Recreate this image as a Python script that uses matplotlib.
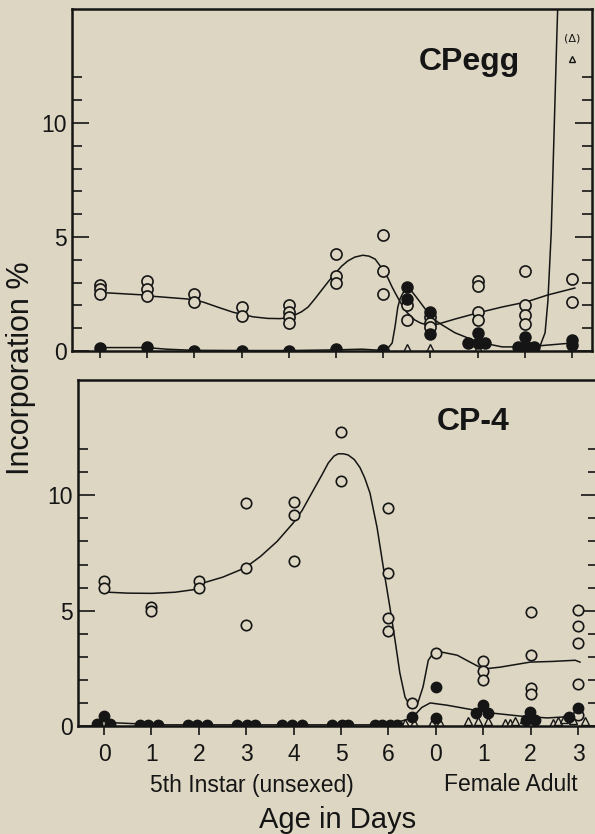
import matplotlib
matplotlib.use("Agg")
import matplotlib.pyplot as plt

plt.rcParams['font.family'] = ['Liberation Sans', 'DejaVu Sans']

BG = '#dcd6c2'
INK = '#151515'

day_pos = list(range(11))
day_labels = ['0', '1', '2', '3', '4', '5', '6', '0', '1', '2', '3']

# ---- CPegg (top panel) ----
egg_open_x = [0, 0, 0, 1, 1, 1, 2, 2, 3, 3, 4, 4, 4, 4, 5, 5, 5, 6, 6, 6,
              6.5, 6.5, 7, 7, 7, 8, 8, 8, 8, 9, 9, 9, 9, 10, 10]
egg_open_y = [2.9, 2.7, 2.5, 3.05, 2.7, 2.4, 2.5, 2.15, 1.95, 1.55, 2.0, 1.7, 1.5, 1.25,
              4.25, 3.3, 3.0, 5.1, 3.5, 2.5, 2.0, 1.35, 1.5, 1.25, 1.05,
              3.05, 2.85, 1.7, 1.35, 3.5, 2.0, 1.6, 1.2, 3.15, 2.15]
egg_fill_x = [0, 1, 2, 3, 4, 5, 6, 6.5, 6.5, 7, 7, 8, 7.8, 8.0, 8.15,
              9, 8.85, 9.05, 9.2, 10, 10]
egg_fill_y = [0.15, 0.17, 0.0, 0.0, 0.0, 0.08, 0.05, 2.8, 2.3, 1.7, 0.75, 0.8, 0.35, 0.35, 0.35,
              0.6, 0.18, 0.18, 0.18, 0.5, 0.25]
egg_tri_x = [6.5, 7, 8, 9.2]
egg_tri_y = [0.12, 0.12, 0.12, 0.12]
egg_tri_off_x = [10]
egg_tri_off_y = [12.8]

# hand-drawn curves
egg_open_cx = [0.15, 1.0, 1.12, 1.86, 2.18, 2.5, 2.82, 3.24, 3.55, 3.81, 4.0, 4.13, 4.27,
               4.41, 4.55, 4.7, 4.84, 4.98, 5.12, 5.25, 5.4, 5.57, 5.7, 5.83, 6.0, 6.1,
               6.19, 6.28, 6.36, 6.5, 6.67, 6.8, 6.95, 7.16, 7.52, 8.0, 8.52, 9.03,
               9.49, 10.06]
egg_open_cy = [2.55, 2.45, 2.4, 2.28, 2.15, 1.92, 1.7, 1.5, 1.43, 1.42, 1.46, 1.58, 1.72,
               1.93, 2.28, 2.68, 3.05, 3.4, 3.72, 3.95, 4.12, 4.2, 4.16, 4.03, 3.55, 3.2,
               2.8, 2.45, 2.15, 1.7, 1.36, 1.22, 1.14, 1.18, 1.4, 1.67, 1.93, 2.15,
               2.46, 2.76]
egg_fill_cx = [0.0, 1.0, 1.4, 1.97, 3.0, 4.0, 5.02, 5.55, 5.95, 6.1, 6.19, 6.25, 6.31,
               6.36, 6.42, 6.53, 6.65, 6.78, 7.03, 7.25, 7.52, 8.0, 8.52, 9.03, 9.49, 10.0]
egg_fill_cy = [0.15, 0.15, 0.08, 0.03, 0.02, 0.02, 0.05, 0.08, 0.03, 0.12, 0.35, 1.05, 1.93,
               2.3, 2.55, 2.8, 2.5, 2.15, 1.45, 1.14, 0.8, 0.4, 0.18, 0.18, 0.26, 0.35]
egg_tri_cx = [9.0, 9.17, 9.32, 9.43, 9.49, 9.56, 9.6, 9.64, 9.68, 9.72]
egg_tri_cy = [0.02, 0.05, 0.2, 0.8, 2.2, 5.2, 8.1, 11.0, 13.9, 16.5]

# ---- CP-4 (bottom panel) ----
cp4_open_x = [0, 0, 1, 1, 2, 2, 3, 3, 3, 4, 4, 4, 5, 5, 6, 6, 6, 6, 6.5, 7,
              8, 8, 8, 9, 9, 9, 9, 10, 10, 10, 10, 10]
cp4_open_y = [6.28, 6.0, 5.15, 5.0, 6.3, 6.0, 9.65, 6.85, 4.4, 9.7, 9.15, 7.15,
              12.75, 10.6, 9.45, 6.65, 4.7, 4.1, 1.0, 3.15,
              2.8, 2.4, 2.0, 4.95, 3.07, 1.65, 1.4, 5.05, 4.35, 3.6, 1.8, 0.48]
cp4_fill_x = [-0.15, 0, 0.13, 0.76, 0.93, 1.14, 1.77, 1.96, 2.17, 2.8, 3.02, 3.19,
              3.76, 3.97, 4.18, 4.81, 5.02, 5.15, 5.72, 5.87, 6.03, 6.18,
              6.5, 7, 7, 8.0, 7.85, 8.1, 8.99, 8.9, 9.1, 10.0, 9.8]
cp4_fill_y = [0.1, 0.43, 0.1, 0.05, 0.05, 0.05, 0.05, 0.05, 0.05, 0.05, 0.05, 0.05,
              0.05, 0.05, 0.05, 0.05, 0.05, 0.05, 0.05, 0.05, 0.05, 0.05,
              0.4, 1.7, 0.35, 0.9, 0.55, 0.55, 0.6, 0.25, 0.25, 0.8, 0.4]
cp4_tri_x = [6.35, 6.54, 6.92, 7.09, 7.68, 7.89, 8.1, 8.46, 8.57, 8.67, 8.86,
             9.47, 9.58, 9.7, 9.89, 10.15]
cp4_tri_y = [0.15, 0.15, 0.15, 0.15, 0.2, 0.2, 0.2, 0.15, 0.15, 0.2, 0.3,
             0.15, 0.2, 0.3, 0.25, 0.2]

cp4_open_cx = [0.08, 0.5, 1.01, 1.5, 1.96, 2.09, 2.5, 2.97, 3.3, 3.65, 3.99, 4.18, 4.45,
               4.6, 4.73, 4.85, 4.94, 5.05, 5.15, 5.28, 5.4, 5.5, 5.61, 5.76, 5.89, 6.03,
               6.14, 6.24, 6.35, 6.43, 6.5, 6.57, 6.62, 6.73, 6.84, 6.94,
               7.13, 7.45, 7.72, 8.0, 8.35, 8.99, 9.47, 9.94, 10.04]
cp4_open_cy = [5.8, 5.76, 5.75, 5.8, 5.93, 6.2, 6.45, 6.85, 7.35, 8.0, 8.8, 9.35, 10.35,
               10.9, 11.4, 11.7, 11.8, 11.8, 11.75, 11.55, 11.2, 10.75, 10.1, 8.6, 6.9,
               5.15, 3.7, 2.3, 1.25, 0.97, 0.9, 0.92, 1.0, 1.7, 2.85, 3.15,
               3.2, 3.07, 2.77, 2.47, 2.55, 2.77, 2.8, 2.85, 2.77]
cp4_fill_cx = [0.1, 0.65, 1.0, 2.0, 3.0, 4.0, 5.0, 6.0, 6.5, 6.7, 6.88, 7.24, 7.78, 8.14,
               8.78, 9.35, 9.77]
cp4_fill_cy = [0.15, 0.1, 0.05, 0.05, 0.05, 0.05, 0.05, 0.05, 0.35, 0.8, 1.0, 0.9, 0.7, 0.57,
               0.43, 0.35, 0.4]

W, H = 595, 834
fig = plt.figure(figsize=(W / 100, H / 100), dpi=100)
fig.patch.set_facecolor(BG)


def box(l, t, r, b):
    return [l / W, 1 - b / H, (r - l) / W, (b - t) / H]


def style_panel(ax, xlim, xtick_len, show_labels):
    ax.set_facecolor(BG)
    ax.set_xlim(*xlim)
    ax.set_ylim(0, 15)
    for s in ax.spines.values():
        s.set_linewidth(1.8)
        s.set_color(INK)
        s.set_zorder(6)
    ax.set_yticks([0, 5, 10])
    ax.set_yticklabels(['0', '5', '10'])
    ax.set_yticks([1, 2, 3, 4, 6, 7, 8, 9, 11, 12], minor=True)
    ax.tick_params(axis='y', which='both', direction='in', left=True, right=True,
                   colors=INK, width=1.2, labelsize=16.5, pad=4)
    ax.tick_params(axis='y', which='major', length=12)
    ax.tick_params(axis='y', which='minor', length=7)
    ax.set_xticks(day_pos)
    ax.set_xticklabels(day_labels)
    ax.tick_params(axis='x', direction='out', length=xtick_len, width=1.2, colors=INK,
                   labelsize=16.5, pad=6, labelbottom=show_labels)


def draw(ax, ox, oy, fx, fy, tx, ty, curves, ms):
    for cx, cy in curves:
        ax.plot(cx, cy, color=INK, lw=1.1, zorder=2)
    ax.plot(tx, ty, ls='none', marker='^', ms=6, mfc=BG, mec=INK, mew=1.0, zorder=3)
    ax.plot(ox, oy, ls='none', marker='o', ms=ms, mfc=BG, mec=INK, mew=1.2, zorder=4)
    ax.plot(fx, fy, ls='none', marker='o', ms=ms, mfc=INK, mec=INK, mew=1.0, zorder=5)


ax1 = fig.add_axes(box(72, 9, 592, 351))
style_panel(ax1, (-0.593, 10.424), 5, False)
draw(ax1, egg_open_x, egg_open_y, egg_fill_x, egg_fill_y, egg_tri_x, egg_tri_y,
     [(egg_open_cx, egg_open_cy), (egg_fill_cx, egg_fill_cy), (egg_tri_cx, egg_tri_cy)], 8)
ax1.plot(egg_tri_off_x, egg_tri_off_y, ls='none', marker='^', ms=5, mfc=BG, mec=INK, mew=1.0)
ax1.text(10, 13.7, '(\u0394)', ha='center', va='center', fontsize=8, color=INK,
         family=['DejaVu Sans'])
ax1.text(0.765, 0.845, 'CPegg', transform=ax1.transAxes, ha='center', va='center',
         fontsize=23, fontweight='bold', color=INK)

ax2 = fig.add_axes(box(78, 380, 598, 726))
style_panel(ax2, (-0.549, 10.42), 6.5, True)
draw(ax2, cp4_open_x, cp4_open_y, cp4_fill_x, cp4_fill_y, cp4_tri_x, cp4_tri_y,
     [(cp4_open_cx, cp4_open_cy), (cp4_fill_cx, cp4_fill_cy)], 7.5)
ax2.text(0.76, 0.88, 'CP-4', transform=ax2.transAxes, ha='center', va='center',
         fontsize=23, fontweight='bold', color=INK)

fig.text(21 / W, 1 - 368 / H, 'Incorporation %', rotation=90, ha='center', va='center',
         fontsize=22, color=INK)
fig.text(252 / W, 1 - 792 / H, '5th Instar (unsexed)', ha='center', va='baseline',
         fontsize=16.5, color=INK)
fig.text(511 / W, 1 - 791 / H, 'Female Adult', ha='center', va='baseline',
         fontsize=16.5, color=INK)
fig.text(338 / W, 1 - 828 / H, 'Age in Days', ha='center', va='baseline',
         fontsize=21, color=INK)

fig.savefig('out.png', dpi=100, facecolor=BG)
